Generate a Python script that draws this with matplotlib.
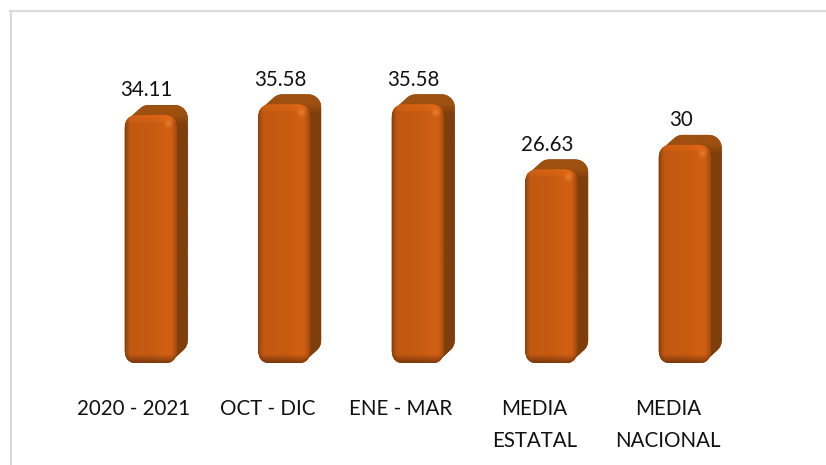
import numpy as np
import matplotlib
matplotlib.use("Agg")
import matplotlib.pyplot as plt
from matplotlib.patches import FancyBboxPatch, Polygon
from matplotlib.lines import Line2D

categories = ["2020 - 2021", "OCT - DIC", "ENE - MAR", "MEDIA\nESTATAL", "MEDIA\nNACIONAL"]
values = [34.11, 35.58, 35.58, 26.63, 30]
labels = ["34.11", "35.58", "35.58", "26.63", "30"]

W, H = 826, 465
plt.rcParams["font.family"] = ["Lato", "DejaVu Sans"]
fig = plt.figure(figsize=(W / 100, H / 100), dpi=100, facecolor="white")

# plot area: category spacing 133.5 px, 7.27 px per unit, baseline at y=363 px
left, right = 67.0, 734.5
bottom_px, top_px = 363.0, 63.0
ax = fig.add_axes([left / W, 1 - bottom_px / H, (right - left) / W, (bottom_px - top_px) / H])
ax.patch.set_alpha(0)
for s in ax.spines.values():
    s.set_visible(False)
ax.set_yticks([])
ax.set_xticks(range(len(categories)))
ax.set_xticklabels(categories, fontsize=14.8, color="#111111", linespacing=1.76, va="top")
ax.tick_params(axis="x", length=0, pad=26)

px_x = 1 / 133.5
px_y = 1 / 7.27
aspect = px_y / px_x
off = 17 * px_x
fw = 52 * px_x
dx, dy = 11 * px_x, 10 * px_y
r = 13 * px_x
base = -0.5 * px_y

xs = np.linspace(0, 1, 120)
stops_x = [0, .03, .10, .55, .80, .90, .97, 1]
vals_x = [.66, .82, .97, 1.0, 1.05, 1.03, .88, .78]
hx = np.interp(xs, stops_x, vals_x)
base_col = np.array([0xC7, 0x5B, 0x12]) / 255
side_col = np.array([0x7F, 0x3F, 0x0B]) / 255
top_col = np.array([0x9E, 0x50, 0x10]) / 255


def rounded_points(x, y0, y1):
    """Outline of a rounded box, in data units."""
    a = np.linspace(0, np.pi / 2, 10)
    rx, ry = r, r * aspect
    pts = []
    for cx, cy, start in [(x + fw - rx, y1 - ry, 0), (x + rx, y1 - ry, np.pi / 2),
                          (x + rx, y0 + ry, np.pi), (x + fw - rx, y0 + ry, 1.5 * np.pi)]:
        pts += [(cx + rx * np.cos(start + t), cy + ry * np.sin(start + t)) for t in a]
    return pts


def hull(pts):
    """Monotone-chain convex hull; coordinates compared in pixels."""
    p = sorted(set(pts))
    def cross(o, a, b):
        return ((a[0] - o[0]) / px_x * (b[1] - o[1]) / px_y
                - (a[1] - o[1]) / px_y * (b[0] - o[0]) / px_x)
    lo, up = [], []
    for q in p:
        while len(lo) >= 2 and cross(lo[-2], lo[-1], q) <= 0:
            lo.pop()
        lo.append(q)
    for q in reversed(p):
        while len(up) >= 2 and cross(up[-2], up[-1], q) <= 0:
            up.pop()
        up.append(q)
    return lo[:-1] + up[:-1]


for i, v in enumerate(values):
    x0 = i + off - fw / 2
    # extruded silhouette, coloured from the top face into the side face
    outline = hull(rounded_points(x0, base, v) + rounded_points(x0 + dx, base + dy, v + dy))
    sil = Polygon(outline, closed=True, facecolor="#7F3F0B", linewidth=0, zorder=2)
    ax.add_patch(sil)
    sy = np.linspace(v + dy, base, 500)
    s = np.clip(((sy - v) / px_y + 9) / 9, 0, 1)[:, None, None]
    tex = s * top_col[None, None, :] + (1 - s) * side_col[None, None, :]
    im0 = ax.imshow(tex, extent=(x0, x0 + fw + dx, base, v + dy), aspect="auto",
                    origin="upper", zorder=2.1, interpolation="bilinear")
    im0.set_clip_path(sil)

    # front face with gradient
    front = FancyBboxPatch((x0, base), fw, v - base,
                           boxstyle=f"round,pad=0,rounding_size={r}",
                           mutation_aspect=aspect, linewidth=0, facecolor="#C55A11", zorder=3)
    ax.add_patch(front)
    h_px = (v - base) / px_y
    yy = np.arange(400) / 399 * h_px
    vy = np.ones(400)
    vy = np.where(yy < 7, 1.04 + (7 - yy) * 0.006, vy)
    vy = np.where(h_px - yy < 9, 0.6 + 0.4 * (h_px - yy) / 9, vy)
    img = np.outer(vy, hx)[..., None] * base_col
    im = ax.imshow(np.clip(img, 0, 1), extent=(x0, x0 + fw, base, v), aspect="auto",
                   origin="upper", zorder=3.1, interpolation="bilinear")
    im.set_clip_path(front)

    # highlight
    gx, gy = np.meshgrid(np.linspace(-1, 1, 40), np.linspace(-1, 1, 40))
    rgba = np.zeros((40, 40, 4))
    rgba[..., :3] = np.array([0xEE, 0x88, 0x36]) / 255
    rgba[..., 3] = 0.8 * np.clip(1 - np.hypot(gx, gy), 0, 1)
    hx0 = x0 + 38 * px_x
    ax.imshow(rgba, extent=(hx0, hx0 + 11 * px_x, v - 14 * px_y, v - 3 * px_y), aspect="auto",
              zorder=3.2, interpolation="bilinear")

    # value label
    ax.annotate(labels[i], (i + off, v), xytext=(-3, 10.5), textcoords="offset points",
                ha="center", va="bottom", fontsize=14.8, color="#111111",
                annotation_clip=False, zorder=5)

ax.set_xlim(-0.5, 4.5)
ax.set_ylim(0, (bottom_px - top_px) / 7.27)

# chart frame (left and top sides visible)
fig.add_artist(Line2D([10.5 / W, 10.5 / W], [1 - 11 / H, 0], color="#D9D9D9", lw=1.5))
fig.add_artist(Line2D([10 / W, 1], [1 - 11 / H, 1 - 11 / H], color="#D9D9D9", lw=1.5))

fig.savefig("out.png", dpi=100, facecolor="white")
